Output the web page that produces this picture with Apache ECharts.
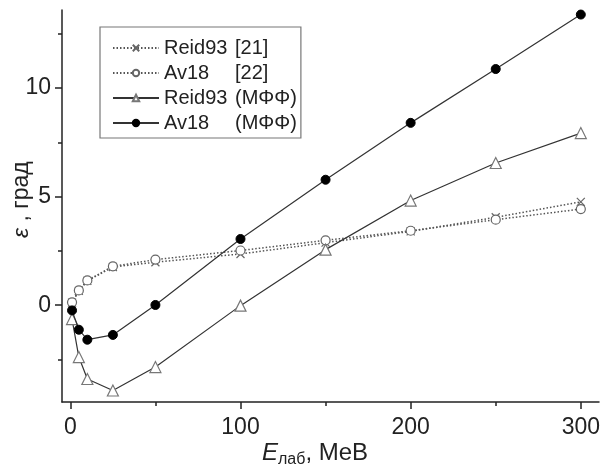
<!DOCTYPE html>
<html><head><meta charset="utf-8">
<script src="https://cdn.jsdelivr.net/npm/echarts@6/dist/echarts.min.js"></script>
<style>html,body{margin:0;padding:0;background:#fff}#c{width:603px;height:474px}</style>
</head><body><div id="c"></div>
<script>
const energies = [1, 5, 10, 25, 50, 100, 150, 200, 250, 300];
const reid93Ref = [0.12, 0.66, 1.12, 1.76, 1.98, 2.36, 2.88, 3.40, 4.05, 4.76];
const av18Ref   = [0.13, 0.68, 1.14, 1.79, 2.10, 2.52, 2.99, 3.43, 3.94, 4.43];
const reid93MFF = [-0.64, -2.39, -3.40, -3.93, -2.85, -0.02, 2.56, 4.82, 6.55, 7.93];
const av18MFF   = [-0.24, -1.13, -1.59, -1.37, 0.01, 3.05, 5.78, 8.40, 10.88, 13.39];
const xLabels = [0, 100, 200, 300];
const xMinor = [50, 150, 250];
const yLabels = [0, 5, 10];
const yMinor = [-2.5, 2.5, 7.5, 12.5];
const names = ['Reid93 [21]', 'Av18 [22]', 'Reid93 (MΦΦ)', 'Av18 (MΦΦ)'];

const pair = arr => energies.map((e, i) => [e, arr[i]]);
const FONT = 'Liberation Sans, Arial, sans-serif';
const XMIN = -4.9, XMAX = 310.7, YMIN = -4.46, YMAX = 13.6;
const cross = 'path://M0,0 L10,10 M10,0 L0,10';

const chart = echarts.init(document.getElementById('c'), null, {renderer: 'canvas'});
const axisBase = {type: 'value', splitLine: {show: false}};
chart.setOption({
  animation: false,
  backgroundColor: '#fff',
  grid: {left: 62, right: 3, top: 10, bottom: 72},
  xAxis: [
    Object.assign({}, axisBase, {min: XMIN, max: XMAX,
      axisLine: {show: true, onZero: false, lineStyle: {color: '#222', width: 1.5}},
      axisTick: {show: true, inside: false, length: 7, customValues: xLabels, lineStyle: {color: '#222', width: 1.5}},
      axisLabel: {customValues: xLabels, margin: 14, fontSize: 23, color: '#222', fontFamily: FONT}}),
    Object.assign({}, axisBase, {min: XMIN, max: XMAX, position: 'bottom',
      axisLine: {show: false, onZero: false}, axisLabel: {show: false},
      axisTick: {show: true, length: 4, customValues: xMinor, lineStyle: {color: '#222', width: 1.5}}})
  ],
  yAxis: [
    Object.assign({}, axisBase, {min: YMIN, max: YMAX,
      axisLine: {show: true, onZero: false, lineStyle: {color: '#222', width: 1.5}},
      axisTick: {show: true, length: 7, customValues: yLabels, lineStyle: {color: '#222', width: 1.5}},
      axisLabel: {customValues: yLabels, margin: 11, fontSize: 23, color: '#222', fontFamily: FONT}}),
    Object.assign({}, axisBase, {min: YMIN, max: YMAX, position: 'left',
      axisLine: {show: false, onZero: false}, axisLabel: {show: false},
      axisTick: {show: true, length: 4, customValues: yMinor, lineStyle: {color: '#222', width: 1.5}}})
  ],
  legend: {
    left: 100, top: 27, orient: 'vertical',
    padding: [11, 4, 5, 12],
    borderColor: '#777', borderWidth: 1.2,
    itemWidth: 46, itemHeight: 8, itemGap: 5,
    data: names,
    textStyle: {fontSize: 20, color: '#222', fontFamily: FONT,
      rich: {n: {width: 71, fontSize: 20, color: '#222', fontFamily: FONT},
             r: {fontSize: 20, color: '#222', fontFamily: FONT}}},
    formatter: function (nm) {
      const k = nm.indexOf(' ');
      return '{n|' + nm.slice(0, k) + '}{r|' + nm.slice(k + 1) + '}';
    }
  },
  graphic: [
    {type: 'text', left: 262, top: 441, style: {
      text: '{e|E}{s|лаб}{t|, MeB}', fill: '#222',
      rich: {e: {fontSize: 24, fontStyle: 'italic', fontFamily: FONT, fill: '#222'},
             s: {fontSize: 16, fontFamily: FONT, fill: '#222', padding: [13, 0, 0, 0]},
             t: {fontSize: 24, fontFamily: FONT, fill: '#222'}}}},
    {type: 'text', x: 10, y: 238, rotation: Math.PI / 2, style: {
      text: '{e|ε}{t| , град}', fill: '#222',
      rich: {e: {fontSize: 23, fontStyle: 'italic', fontFamily: FONT, fill: '#222'},
             t: {fontSize: 23, fontFamily: FONT, fill: '#222'}}}}
  ],
  series: [
    {name: names[0], type: 'line', data: pair(reid93Ref), symbol: cross, symbolSize: 8,
      lineStyle: {color: '#555', width: 1.5, type: [1.5, 2]},
      itemStyle: {color: 'rgba(0,0,0,0)', borderColor: '#666', borderWidth: 1.2}, z: 2},
    {name: names[1], type: 'line', data: pair(av18Ref), symbol: 'circle', symbolSize: 9,
      lineStyle: {color: '#555', width: 1.5, type: [1.5, 2]},
      itemStyle: {color: '#fff', borderColor: '#666', borderWidth: 1.2}, z: 3},
    {name: names[2], type: 'line', data: pair(reid93MFF), symbol: 'triangle', symbolSize: 11,
      lineStyle: {color: '#333', width: 1.2},
      itemStyle: {color: '#fff', borderColor: '#777', borderWidth: 1.2}, z: 4},
    {name: names[3], type: 'line', data: pair(av18MFF), symbol: 'circle', symbolSize: 9,
      lineStyle: {color: '#333', width: 1.2},
      itemStyle: {color: '#000', borderColor: '#000', borderWidth: 1}, z: 5}
  ]
});
</script></body></html>
